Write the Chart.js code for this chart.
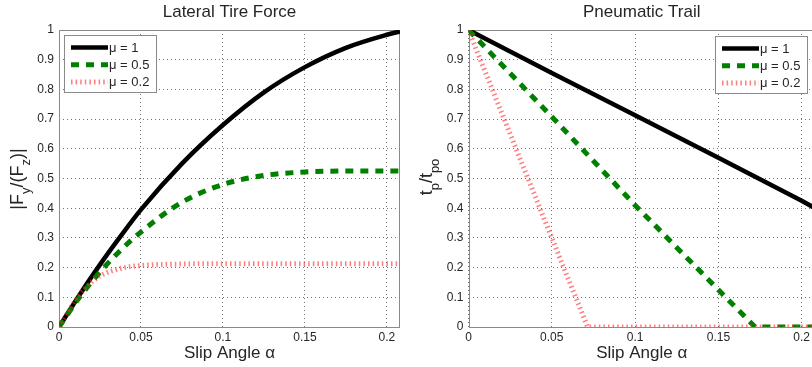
<!DOCTYPE html>
<html>
<head>
<meta charset="utf-8">
<script src="https://cdn.jsdelivr.net/npm/chart.js@4.4.1/dist/chart.umd.min.js"></script>
<style>
  html, body { margin: 0; padding: 0; background: #fff; overflow: hidden; }
  #wrap { position: relative; width: 812px; height: 367px; overflow: hidden; }
  .panel { position: absolute; top: 0; }
  #left { left: 0; }
  #right { left: 405px; }
</style>
</head>
<body>
<div id="wrap">
  <div class="panel" id="left"><canvas id="forceChart" width="405" height="367"></canvas></div>
  <div class="panel" id="right"><canvas id="trailChart" width="420" height="367"></canvas></div>
</div>
<script>
// Axis ticks
const xTicks = [0, 0.05, 0.1, 0.15, 0.2];
const yTicks = [0, 0.1, 0.2, 0.3, 0.4, 0.5, 0.6, 0.7, 0.8, 0.9, 1];
const alphaMax = 0.208;
const muLabels = ['μ = 1', 'μ = 0.5', 'μ = 0.2'];

// Lateral tire force |Fy/Fz|
const forceAlpha = [0, 0.0125, 0.025, 0.0375, 0.05, 0.075, 0.1, 0.125, 0.15, 0.175, 0.2, 0.208];
const forceMu1 = [0, 0.108, 0.21, 0.305, 0.395, 0.55, 0.68, 0.79, 0.875, 0.94, 0.984, 0.995];
const forceMu05 = [0, 0.10, 0.185, 0.258, 0.32, 0.42, 0.48, 0.51, 0.522, 0.525, 0.525, 0.525];
const forceAlphaMu02 = [0, 0.0125, 0.02, 0.025, 0.0375, 0.05, 0.075, 0.1, 0.208];
const forceMu02 = [0, 0.108, 0.152, 0.172, 0.197, 0.207, 0.212, 0.213, 0.213];

// Pneumatic trail tp/tpo
const trailAlphaMu1 = [0, 0.05, 0.1, 0.15, 0.2, 0.208];
const trailMu1 = [1, 0.855, 0.713, 0.57, 0.425, 0.40];
const trailAlphaMu05 = [0, 0.05, 0.1, 0.172, 0.208];
const trailMu05 = [1, 0.708, 0.41, 0, 0];
const trailAlphaMu02 = [0, 0.05, 0.0715, 0.208];
const trailMu02 = [1, 0.30, 0, 0];

const family = '"Liberation Sans", Arial, Helvetica, sans-serif';
const textColor = '#262626';
const gridColor = 'rgba(0,0,0,0.55)';

function points(xs, ys) {
    return xs.map((x, i) => ({ x: x, y: ys[i] }));
}

function seriesSet(d1, d05, d02, tension) {
    return [
        { label: muLabels[0], data: d1, borderColor: '#000000', borderWidth: 4.5, borderDash: [], order: 3 },
        { label: muLabels[1], data: d05, borderColor: '#008000', borderWidth: 5, borderDash: [8, 7], order: 2 },
        { label: muLabels[2], data: d02, borderColor: 'rgba(255,40,40,0.6)', borderWidth: 5, borderDash: [1.5, 3.1], order: 1 }
    ].map(ds => Object.assign(ds, {
        pointRadius: 0,
        borderCapStyle: 'butt',
        fill: false,
        tension: tension,
        cubicInterpolationMode: tension ? 'monotone' : 'default'
    }));
}

// gray box around the plot area
const axesBox = {
    id: 'axesBox',
    beforeDatasetsDraw(chart) {
        const { ctx, chartArea: a } = chart;
        ctx.save();
        ctx.strokeStyle = '#8a8a8a';
        ctx.lineWidth = 1;
        ctx.strokeRect(Math.round(a.left) + 0.5, Math.round(a.top) + 0.5,
            Math.round(a.right - a.left) - 1, Math.round(a.bottom - a.top));
        ctx.restore();
    }
};

// legend drawn inside the plot area
const boxLegend = {
    id: 'boxLegend',
    afterDatasetsDraw(chart, args, opts) {
        const { ctx, chartArea: a } = chart;
        const w = 92, h = 57;
        const x = Math.round(opts.side === 'right' ? a.right - opts.inset - w : a.left + opts.inset);
        const y = Math.round(a.top + opts.top);
        ctx.save();
        ctx.fillStyle = '#fff';
        ctx.fillRect(x, y, w, h);
        ctx.strokeStyle = '#8a8a8a';
        ctx.lineWidth = 1;
        ctx.strokeRect(x + 0.5, y + 0.5, w, h);
        chart.data.datasets.forEach((ds, i) => {
            const ly = y + 12.5 + i * 17.3;
            ctx.beginPath();
            ctx.setLineDash(ds.borderDash);
            ctx.lineCap = 'butt';
            ctx.lineWidth = ds.borderWidth;
            ctx.strokeStyle = ds.borderColor;
            ctx.moveTo(x + 7, ly);
            ctx.lineTo(x + 44, ly);
            ctx.stroke();
            ctx.setLineDash([]);
            ctx.fillStyle = textColor;
            ctx.font = '13px ' + family;
            ctx.textBaseline = 'middle';
            ctx.fillText(ds.label, x + 45, ly + 0.5);
        });
        ctx.restore();
    }
};

// rotated y title with subscripts
const subTitle = {
    id: 'subTitle',
    afterDraw(chart, args, opts) {
        const ctx = chart.ctx;
        const main = '18px ' + family, sub = '13px ' + family;
        ctx.save();
        ctx.translate(opts.x, opts.y);
        ctx.rotate(-Math.PI / 2);
        ctx.fillStyle = textColor;
        ctx.textBaseline = 'alphabetic';
        let total = 0;
        opts.parts.forEach(p => {
            ctx.font = p[1] ? sub : main;
            total += ctx.measureText(p[0]).width;
        });
        let cx = -total / 2;
        opts.parts.forEach(p => {
            ctx.font = p[1] ? sub : main;
            ctx.fillText(p[0], cx, p[1] ? 7 : 0);
            cx += ctx.measureText(p[0]).width;
        });
        ctx.restore();
    }
};

function makeChart(id, title, datasets, yAxisWidth, padRight, legendOpts, titleOpts) {
    return new Chart(document.getElementById(id), {
        type: 'line',
        data: { datasets: datasets },
        plugins: [axesBox, boxLegend, subTitle],
        options: {
            responsive: false,
            animation: false,
            layout: { padding: { left: 0, right: padRight, top: 0, bottom: 0 } },
            plugins: {
                legend: { display: false },
                tooltip: { enabled: false },
                title: {
                    display: true,
                    fullSize: false,
                    text: title,
                    color: textColor,
                    font: { size: 17, family: family, weight: 'normal' },
                    padding: { top: 2.2, bottom: 7.4 }
                },
                boxLegend: legendOpts,
                subTitle: titleOpts
            },
            scales: {
                x: {
                    type: 'linear',
                    min: 0,
                    max: alphaMax,
                    afterFit: s => { s.height = 40; },
                    afterBuildTicks: s => { s.ticks = xTicks.map(v => ({ value: v })); },
                    ticks: { padding: 3, color: textColor, font: { size: 12, family: family }, maxRotation: 0, autoSkip: false, callback: v => String(v) },
                    grid: { color: gridColor, lineWidth: 1, drawTicks: false },
                    border: { display: false, dash: [1, 3] },
                    title: {
                        display: true,
                        text: 'Slip Angle α',
                        color: textColor,
                        font: { size: 17, family: family },
                        padding: { top: 0, bottom: 3.7 }
                    }
                },
                y: {
                    type: 'linear',
                    min: 0,
                    max: 1,
                    afterFit: s => { s.width = yAxisWidth; },
                    afterBuildTicks: s => { s.ticks = yTicks.map(v => ({ value: v })); },
                    ticks: { padding: 5, color: textColor, font: { size: 12, family: family }, autoSkip: false, callback: v => String(v) },
                    grid: { color: gridColor, lineWidth: 1, drawTicks: false },
                    border: { display: false, dash: [1, 3] }
                }
            }
        }
    });
}

makeChart('forceChart', 'Lateral Tire Force',
    seriesSet(points(forceAlpha, forceMu1), points(forceAlpha, forceMu05), points(forceAlphaMu02, forceMu02), 0.4),
    59, 5,
    { side: 'left', inset: 5, top: 5 },
    { x: 23, y: 179, parts: [['|F', 0], ['y', 1], ['/(F', 0], ['z', 1], [')|', 0]] });

makeChart('trailChart', 'Pneumatic Trail',
    seriesSet(points(trailAlphaMu1, trailMu1), points(trailAlphaMu05, trailMu05), points(trailAlphaMu02, trailMu02), 0),
    63.5, 10,
    { side: 'right', inset: 8, top: 6 },
    { x: 27, y: 177, parts: [['t', 0], ['p', 1], ['/t', 0], ['po', 1]] });
</script>
</body>
</html>
